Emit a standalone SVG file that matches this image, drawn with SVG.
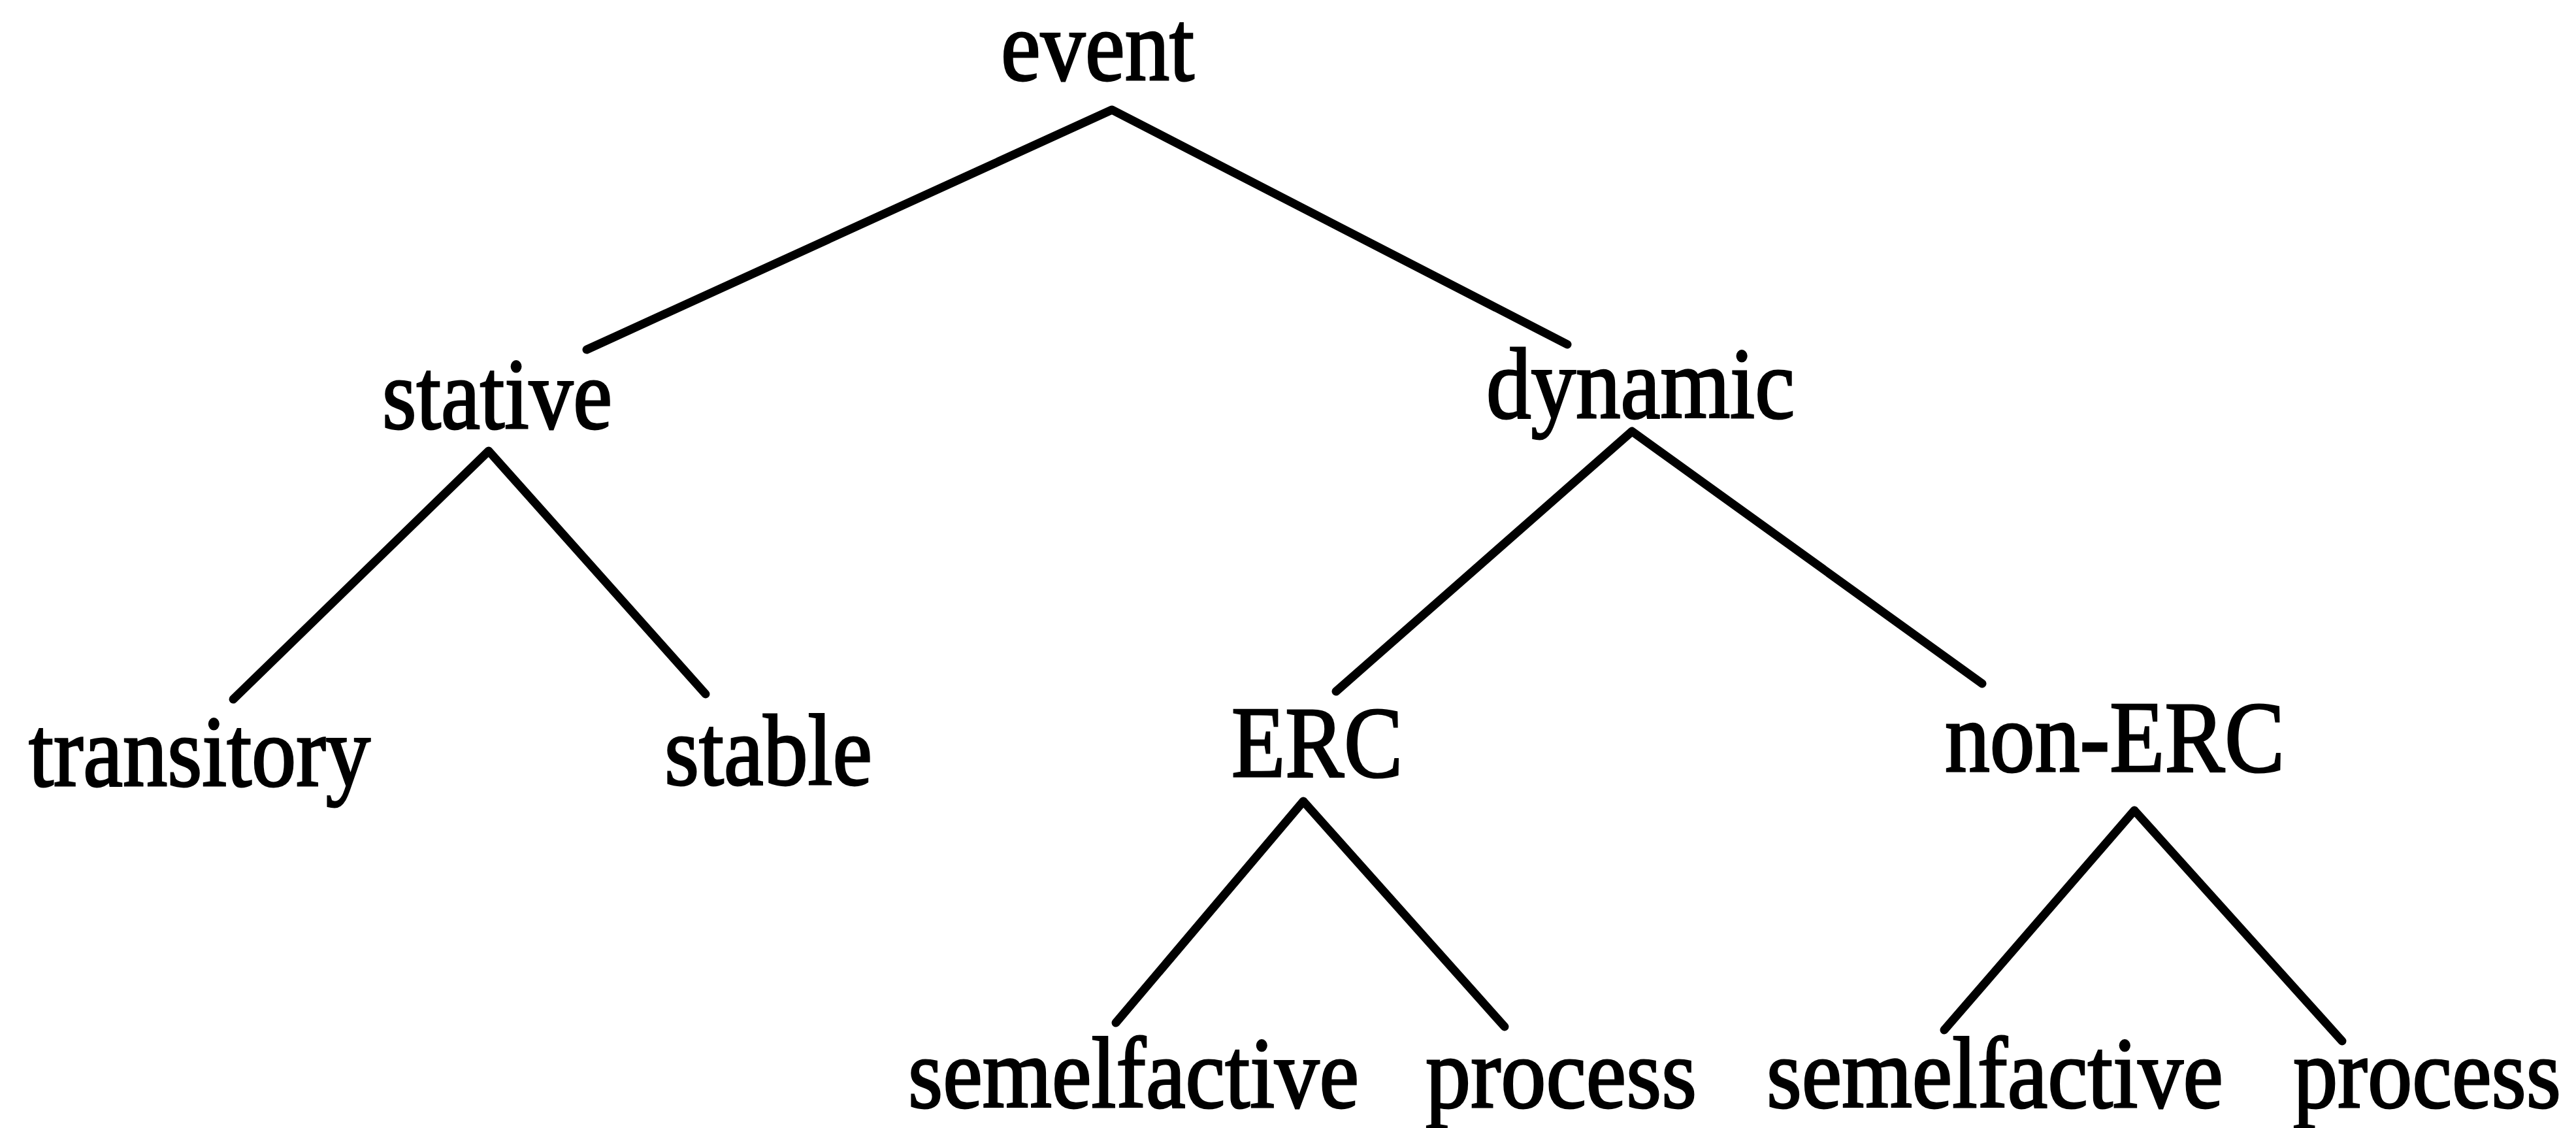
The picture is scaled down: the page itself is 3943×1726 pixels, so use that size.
<svg xmlns="http://www.w3.org/2000/svg" width="3943" height="1726" viewBox="0 0 3943 1726">
<style>
  text { font-family: "Liberation Serif", "Times New Roman", serif; font-size: 155px; fill: #000; stroke: #000; stroke-width: 3; }
  .edge { stroke: #000; stroke-width: 13; stroke-linecap: round; stroke-linejoin: round; fill: none; }
</style>
<rect width="3943" height="1726" fill="#fff"/>
<g id="connectors">
  <polyline class="edge" points="898,535 1702,168 2399,527"/>
  <polyline class="edge" points="357,1070 748,690 1080,1062"/>
  <polyline class="edge" points="2045,1058 2498,660 3034,1046"/>
  <polyline class="edge" points="1708,1565 1995,1226 2303,1571"/>
  <polyline class="edge" points="2976,1576 3267,1240 3585,1593"/>
</g>
<g id="node-event"><text x="1532" y="122" textLength="296" lengthAdjust="spacingAndGlyphs">event</text></g>
<g id="node-stative"><text x="585" y="655" textLength="352" lengthAdjust="spacingAndGlyphs">stative</text></g>
<g id="node-dynamic"><text x="2275" y="639" textLength="472" lengthAdjust="spacingAndGlyphs">dynamic</text></g>
<g id="node-transitory"><text x="44" y="1202" textLength="523" lengthAdjust="spacingAndGlyphs">transitory</text></g>
<g id="node-stable"><text x="1017" y="1200" textLength="318" lengthAdjust="spacingAndGlyphs">stable</text></g>
<g id="node-erc"><text x="1885" y="1188" textLength="262" lengthAdjust="spacingAndGlyphs">ERC</text></g>
<g id="node-non-erc"><text x="2977" y="1180" textLength="520" lengthAdjust="spacingAndGlyphs">non-ERC</text></g>
<g id="node-semelfactive-1"><text x="1390" y="1694" textLength="690" lengthAdjust="spacingAndGlyphs">semelfactive</text></g>
<g id="node-process-1"><text x="2182" y="1694" textLength="415" lengthAdjust="spacingAndGlyphs">process</text></g>
<g id="node-semelfactive-2"><text x="2704" y="1694" textLength="699" lengthAdjust="spacingAndGlyphs">semelfactive</text></g>
<g id="node-process-2"><text x="3510" y="1694" textLength="410" lengthAdjust="spacingAndGlyphs">process</text></g>
</svg>
